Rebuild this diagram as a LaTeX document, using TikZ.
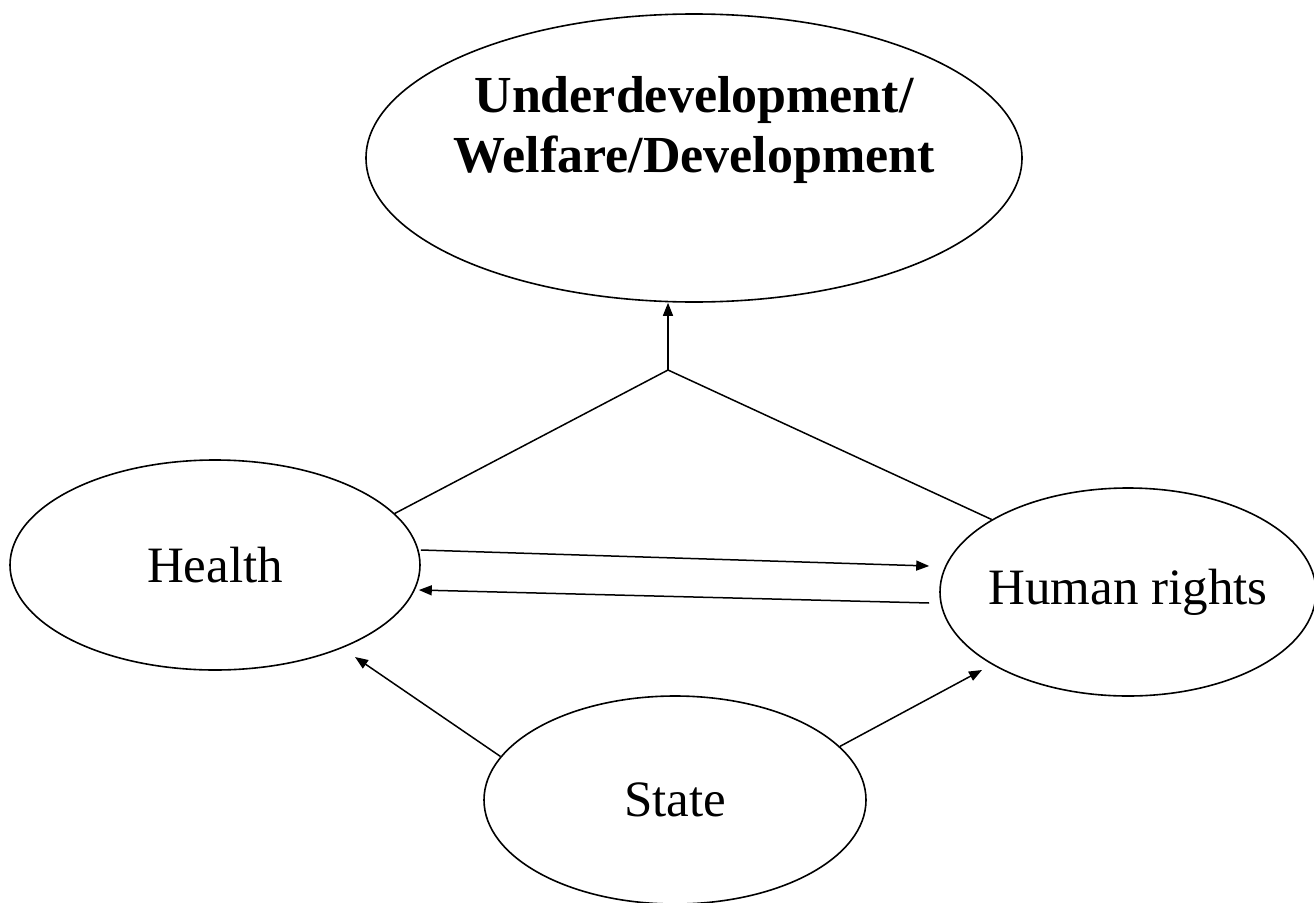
\documentclass[tikz,border=0pt]{standalone}
\usepackage{fontspec}
\setmainfont{Liberation Serif}
\usetikzlibrary{shapes.geometric,arrows.meta}
\begin{document}
\begin{tikzpicture}[x=1pt,y=-1pt,
  oval/.style={draw, ellipse, line width=1.6pt, inner sep=0pt},
  conn/.style={line width=1.5pt},
  arr/.style={conn, -{Triangle[length=13pt,width=10pt]}},
  lbl/.style={font=\fontsize{51}{60}\selectfont},
  ]
\useasboundingbox (0,0) rectangle (1314,902);
\node[oval, minimum width=656pt, minimum height=288pt] (top) at (694,158) {};
\node[font=\fontsize{52}{60}\selectfont\bfseries, align=center] (toptxt) at (694,130) {Underdevelopment/\\Welfare/Development};
\node[oval, minimum width=410pt, minimum height=210pt] (health) at (215,565) {};
\node[lbl] (healthtxt) at (health.center) {Health};
\node[oval, minimum width=376pt, minimum height=208pt] (hr) at (1128,592) {};
\node[lbl] (hrtxt) at (hr.center) {Human rights};
\node[oval, minimum width=382pt, minimum height=208pt] (state) at (675,800) {};
\node[lbl] (statetxt) at (state.center) {State};
\coordinate (J) at (668,370);
\draw[conn] (health.16) -- (J);
\draw[conn] (hr.152.8) -- (J);
\draw[arr] (J) -- (J |- top.south);
\draw[arr] ([yshift=15pt]health.east) -- ([xshift=-10pt,yshift=26pt]hr.west);
\draw[arr] ([xshift=-10pt,yshift=-11pt]hr.west) -- ([xshift=-2pt,yshift=-25pt]health.east);
\draw[arr] (state.166.8) -- ([shift={(140pt,-92pt)}]health.center);
\draw[arr] (state.18) -- ([shift={(-146pt,-78pt)}]hr.center);
\end{tikzpicture}
\end{document}
